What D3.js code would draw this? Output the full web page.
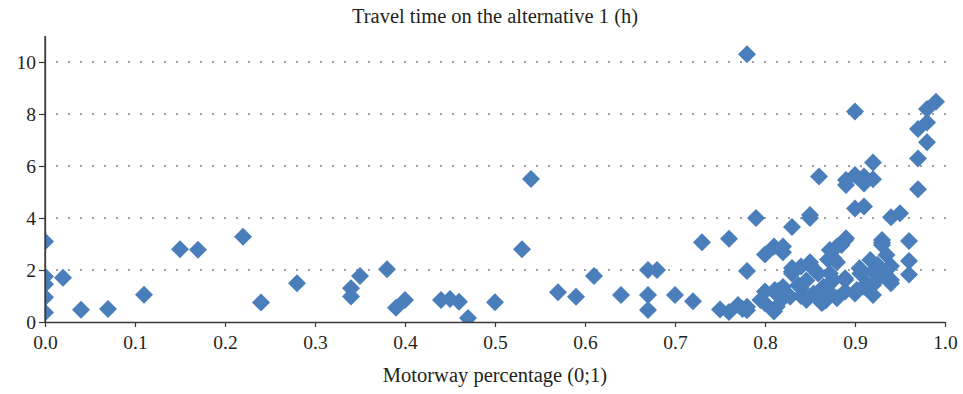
<!DOCTYPE html>
<html>
<head>
<meta charset="utf-8">
<script src="https://cdn.jsdelivr.net/npm/d3@7"></script>
<style>
  html, body { margin: 0; padding: 0; background: #fff; }
  svg text { font-family: "Liberation Serif", "DejaVu Serif", serif; fill: #231f20; }
</style>
</head>
<body>
<div id="chart"></div>
<script>
// motorway share (x) and travel time on alternative 1 in hours (y)
const motorwayShare = [
  0, 0, 0, 0, 0, 0.02, 0.04, 0.07, 0.11, 0.15, 0.17, 0.22, 0.24, 0.28,
  0.34, 0.34, 0.35, 0.38, 0.39, 0.40, 0.44, 0.45, 0.46, 0.47, 0.50, 0.53, 0.54,
  0.57, 0.59, 0.61, 0.64, 0.67, 0.67, 0.67, 0.68, 0.70, 0.72, 0.73, 0.75, 0.76,
  0.76, 0.77, 0.775, 0.78, 0.78, 0.78, 0.78, 0.79, 0.80, 0.81, 0.82, 0.82, 0.83,
  0.80, 0.81, 0.80, 0.81, 0.795, 0.82, 0.811, 0.824, 0.813, 0.815, 0.828, 0.83,
  0.83, 0.83, 0.837, 0.84, 0.84, 0.846, 0.846, 0.85, 0.85, 0.854, 0.855, 0.859,
  0.863, 0.865, 0.865, 0.868, 0.85, 0.85, 0.86, 0.87, 0.872, 0.872, 0.876, 0.876,
  0.88, 0.88, 0.885, 0.889, 0.89, 0.876, 0.889, 0.889, 0.88, 0.889, 0.89, 0.89,
  0.90, 0.90, 0.90, 0.91, 0.91, 0.91, 0.92, 0.92, 0.902, 0.90, 0.906, 0.905,
  0.913, 0.91, 0.913, 0.917, 0.92, 0.92, 0.92, 0.928, 0.93, 0.93, 0.93, 0.93,
  0.935, 0.94, 0.94, 0.94, 0.94, 0.95, 0.96, 0.96, 0.96, 0.97, 0.97, 0.97,
  0.98, 0.98, 0.98, 0.99, 0.87, 0.86, 0.935, 0.925, 0.84, 0.82
];
const travelTime = [
  3.1, 1.75, 1.45, 0.95, 0.37, 1.7, 0.47, 0.5, 1.05, 2.8, 2.78, 3.28, 0.75, 1.49,
  1.3, 0.98, 1.77, 2.03, 0.55, 0.85, 0.85, 0.88, 0.78, 0.15, 0.76, 2.8, 5.5,
  1.14, 0.97, 1.77, 1.04, 2.0, 1.04, 0.46, 2.0, 1.04, 0.8, 3.07, 0.48, 3.2,
  0.38, 0.65, 0.5, 10.3, 1.96, 0.45, 0.59, 4.0, 2.6, 2.9, 2.9, 2.68, 3.65,
  1.17, 1.17, 0.72, 0.4, 0.85, 0.91, 1.23, 1.1, 0.59, 1.2, 0.97, 1.94,
  1.87, 2.08, 1.42, 2.13, 1.3, 0.85, 1.6, 2.2, 2.3, 1.1, 2.0, 1.87,
  0.73, 0.78, 1.36, 0.85, 4.12, 4.0, 5.6, 2.4, 2.77, 1.87, 2.45, 1.62,
  2.3, 0.91, 2.96, 3.15, 3.22, 1.62, 1.17, 1.68, 2.9, 1.62, 5.46, 5.27,
  5.65, 8.1, 4.37, 4.44, 5.6, 5.33, 5.49, 6.13, 1.23, 1.1, 1.87, 2.07,
  1.49, 1.36, 1.4, 2.38, 1.94, 1.42, 1.04, 1.74, 3.05, 3.15, 2.96, 1.85,
  2.58, 2.15, 1.62, 1.49, 4.03, 4.18, 3.12, 2.35, 1.83, 5.11, 6.29, 7.42,
  7.67, 6.91, 8.19, 8.47, 1.2, 1.05, 1.7, 2.2, 1.0, 1.35
];
const xTicks = [0, 0.1, 0.2, 0.3, 0.4, 0.5, 0.6, 0.7, 0.8, 0.9, 1.0];
const yTicks = [0, 2, 4, 6, 8, 10];
const points = motorwayShare.map((m, i) => ({ x: m, y: travelTime[i] }));

const W = 963, H = 394;
const margin = { top: 36, right: 18, bottom: 72, left: 45 };
const width = W - margin.left - margin.right;
const height = H - margin.top - margin.bottom;

const svg = d3.select('#chart')
  .append('svg')
  .attr('width', W)
  .attr('height', H);

const g = svg.append('g')
  .attr('transform', `translate(${margin.left},${margin.top})`);

const x = d3.scaleLinear().domain([0, 1]).range([0, width]);
const y = d3.scaleLinear().domain([0, 11]).range([height, 0]);

// dotted grid lines
g.append('g')
  .selectAll('line')
  .data(yTicks.filter(d => d > 0))
  .enter()
  .append('line')
  .attr('x1', 11.25)
  .attr('x2', width + 1)
  .attr('y1', d => y(d))
  .attr('y2', d => y(d))
  .attr('stroke', '#555')
  .attr('stroke-width', 1.3)
  .attr('stroke-dasharray', '1.5,10.5');

// clip so points on the axis are cut off
svg.append('clipPath')
  .attr('id', 'plot-clip')
  .append('rect')
  .attr('width', width)
  .attr('height', height);

const diamond = d3.symbol().type(d3.symbolSquare).size(162);

g.append('g')
  .attr('clip-path', 'url(#plot-clip)')
  .selectAll('path')
  .data(points)
  .enter()
  .append('path')
  .attr('d', diamond)
  .attr('transform', d => `translate(${x(d.x)},${y(d.y)}) rotate(45)`)
  .attr('fill', '#4a7ebb');

// axes
const xAxis = g.append('g')
  .attr('transform', `translate(0,${height})`)
  .call(d3.axisBottom(x).tickValues(xTicks).tickFormat(d3.format('.1f')).tickSizeInner(5).tickSizeOuter(0).tickPadding(8));

const yAxis = g.append('g')
  .call(d3.axisLeft(y).tickValues(yTicks).tickFormat(d3.format('d')).tickSizeInner(6).tickSizeOuter(0).tickPadding(3));

[xAxis, yAxis].forEach(a => {
  a.select('.domain').attr('stroke', '#3a3a3a').attr('stroke-width', 1.3);
  a.selectAll('.tick line').attr('stroke', '#3a3a3a').attr('stroke-width', 1.2);
  a.selectAll('text')
    .attr('font-family', '"Liberation Serif", "DejaVu Serif", serif')
    .style('font-size', '19.5px')
    .attr('fill', '#231f20');
});

// y axis extends to the top of the plot
g.append('line')
  .attr('x1', 0).attr('x2', 0)
  .attr('y1', 0).attr('y2', height)
  .attr('stroke', '#3a3a3a')
  .attr('stroke-width', 1.3);

// titles
svg.append('text')
  .attr('x', margin.left + width / 2)
  .attr('y', 23)
  .attr('text-anchor', 'middle')
  .style('font-size', '20.5px')
  .text('Travel time on the alternative 1 (h)');

svg.append('text')
  .attr('x', margin.left + width / 2)
  .attr('y', 382)
  .attr('text-anchor', 'middle')
  .style('font-size', '20.5px')
  .text('Motorway percentage (0;1)');
</script>
</body>
</html>
